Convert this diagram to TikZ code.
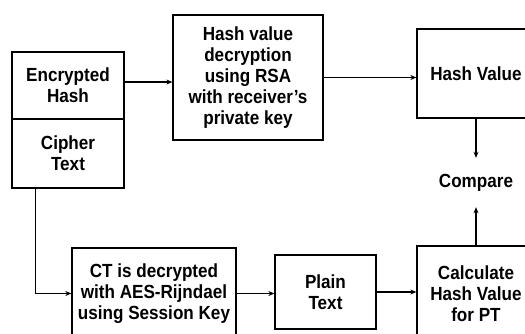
\documentclass[tikz,border=0pt]{standalone}
\usepackage{fontspec}
\setmainfont{Liberation Sans}[FakeStretch=0.9]
\usetikzlibrary{arrows.meta}
\begin{document}
\begin{tikzpicture}[x=1pt,y=-1pt,
  box/.style={draw,line width=1.3pt,inner sep=0pt,align=center,font=\fontsize{19}{21}\selectfont\bfseries},
  lbl/.style={inner sep=0pt,align=center,font=\fontsize{19}{21}\selectfont\bfseries},
  conn/.style={line width=1.3pt},
  arr/.style={line width=1.3pt,-{Stealth[length=6pt,width=5pt]}}]
\clip (0,0) rectangle (525,333);
\useasboundingbox (0,0) rectangle (525,333);
\node[box,minimum width=112,minimum height=67] (enc) at (68,85.5) {Encrypted\\Hash};
\node[box,minimum width=112,minimum height=69] (cipher) at (68,153.5) {Cipher\\Text};
\node[box,minimum width=150,minimum height=125] (dec) at (248,77.5) {Hash value\\decryption\\using RSA\\with receiver’s\\private key};
\node[box,minimum width=118,minimum height=89] (hv) at (476,73.5) {Hash Value};
\node[lbl,minimum height=49] (cmp) at (476,182.5) {Compare};
\node[box,minimum width=118,minimum height=96] (calc) at (476,294) {Calculate\\Hash Value\\for PT};
\node[box,minimum width=101,minimum height=74] (plain) at (325.5,292) {Plain\\Text};
\node[box,minimum width=164,minimum height=91] (ct) at (154,293.5) {CT is decrypted\\with AES-Rijndael\\using Session Key};
\draw[arr] ([yshift=3.5]enc.east) -- ([yshift=3.5]enc.east -| dec.west);
\draw[arr] (dec.east) -- (dec.east -| hv.west);
\draw[arr] (hv.south) -- (cmp.north);
\draw[arr] (calc.north) -- (cmp.south);
\draw[arr] ([xshift=24]cipher.south west) |- (ct.west);
\draw[arr] (ct.east) -- (ct.east -| plain.west);
\draw[arr] (plain.east) -- (plain.east -| calc.west);
\end{tikzpicture}
\end{document}
